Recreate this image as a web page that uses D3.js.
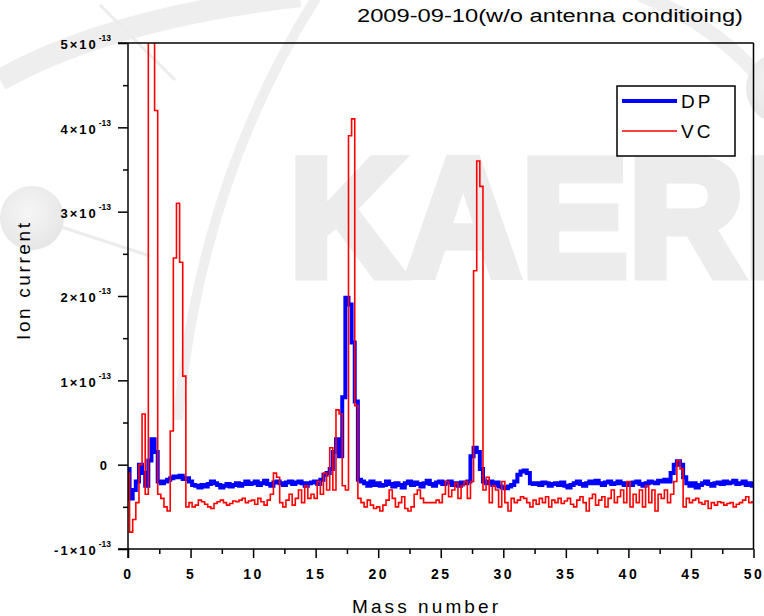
<!DOCTYPE html>
<html><head><meta charset="utf-8">
<script src="https://cdn.jsdelivr.net/npm/d3@7"></script>
<style>
html,body{margin:0;padding:0;background:#fff;}
svg{display:block;}
</style></head>
<body>
<svg id="chart" width="764" height="616"></svg>
<script>
// ---- data (ion current in units of 1e-13 A), mass number grid 0..50 step 0.25 ----
const massStart = 0, massEnd = 50, massStep = 0.25;
const seriesNames = ["DP", "VC"];
const seriesColors = ["#0000ff", "#ff0000"];
const dpValues = [
 -0.05,-0.4,-0.3,-0.2,0.0,-0.1,-0.25,0.05,0.3,0.15,-0.2,-0.22,-0.2,-0.18,-0.16,-0.14,-0.15,-0.13,-0.17,-0.16,
 -0.2,-0.24,-0.25,-0.27,-0.24,-0.26,-0.23,-0.2,-0.22,-0.24,-0.27,-0.25,-0.23,-0.26,-0.24,-0.22,-0.25,-0.23,-0.2,-0.23,
 -0.22,-0.2,-0.24,-0.22,-0.19,-0.23,-0.25,-0.21,-0.2,-0.22,-0.24,-0.21,-0.2,-0.23,-0.21,-0.2,-0.22,-0.25,-0.22,-0.21,
 -0.2,-0.23,-0.18,-0.12,-0.1,-0.05,0.15,0.3,0.1,0.8,1.98,1.9,1.45,0.75,-0.18,-0.2,-0.22,-0.25,-0.2,-0.24,
 -0.22,-0.25,-0.24,-0.2,-0.23,-0.26,-0.22,-0.24,-0.27,-0.22,-0.2,-0.24,-0.21,-0.23,-0.26,-0.22,-0.19,-0.23,-0.25,-0.21,
 -0.2,-0.23,-0.21,-0.2,-0.24,-0.22,-0.25,-0.21,-0.22,-0.2,0.1,0.2,0.15,-0.05,-0.2,-0.22,-0.2,-0.24,-0.21,-0.26,
 -0.27,-0.28,-0.26,-0.24,-0.2,-0.12,-0.08,-0.07,-0.1,-0.22,-0.23,-0.22,-0.24,-0.21,-0.22,-0.25,-0.23,-0.22,-0.24,-0.21,
 -0.25,-0.27,-0.24,-0.22,-0.2,-0.23,-0.25,-0.22,-0.2,-0.22,-0.19,-0.22,-0.24,-0.21,-0.2,-0.23,-0.22,-0.2,-0.22,-0.24,
 -0.22,-0.24,-0.21,-0.2,-0.23,-0.25,-0.22,-0.2,-0.21,-0.22,-0.19,-0.2,-0.18,-0.2,-0.1,0.0,0.04,0.0,-0.15,-0.22,
 -0.25,-0.22,-0.27,-0.24,-0.22,-0.2,-0.23,-0.25,-0.22,-0.21,-0.23,-0.2,-0.22,-0.21,-0.19,-0.23,-0.22,-0.2,-0.24,-0.22,-0.25
];
const vcValues = [
 -0.1,-0.8,-0.65,-0.45,0.0,0.6,-0.35,5.6,5.6,4.2,-0.35,-0.4,-0.5,-0.55,0.4,2.45,3.1,2.4,1.05,-0.5,
 -0.45,-0.5,-0.48,-0.42,-0.44,-0.47,-0.5,-0.52,-0.46,-0.44,-0.42,-0.45,-0.48,-0.46,-0.43,-0.44,-0.42,-0.4,-0.45,-0.43,
 -0.42,-0.47,-0.4,-0.44,-0.48,-0.42,-0.35,-0.1,-0.15,-0.45,-0.5,-0.42,-0.35,-0.48,-0.4,-0.3,-0.45,-0.25,-0.4,-0.35,
 -0.4,-0.2,-0.35,-0.1,-0.3,0.2,-0.3,0.65,0.6,-0.25,-0.3,3.9,4.1,0.7,-0.4,-0.45,-0.5,-0.42,-0.48,-0.52,
 -0.5,-0.55,-0.48,-0.42,-0.3,-0.4,-0.5,-0.45,-0.38,-0.52,-0.55,-0.5,-0.35,-0.3,-0.4,-0.45,-0.45,-0.45,-0.45,-0.42,
 -0.45,-0.35,-0.2,-0.38,-0.3,-0.22,-0.4,-0.25,-0.2,-0.4,-0.2,2.3,3.6,3.3,-0.3,-0.15,-0.45,-0.25,-0.3,-0.5,
 -0.2,-0.45,-0.55,-0.4,-0.45,-0.42,-0.38,-0.4,-0.45,-0.5,-0.42,-0.47,-0.4,-0.45,-0.38,-0.5,-0.42,-0.45,-0.4,-0.46,
 -0.43,-0.4,-0.47,-0.5,-0.42,-0.38,-0.45,-0.55,-0.4,-0.35,-0.48,-0.42,-0.38,-0.5,-0.4,-0.3,-0.45,-0.38,-0.3,-0.45,
 -0.2,-0.5,-0.35,-0.45,-0.3,-0.5,-0.25,-0.45,-0.3,-0.55,-0.35,-0.4,-0.3,-0.45,-0.35,-0.2,0.05,-0.05,-0.5,-0.4,
 -0.45,-0.42,-0.4,-0.45,-0.47,-0.43,-0.52,-0.45,-0.48,-0.44,-0.45,-0.48,-0.46,-0.45,-0.5,-0.47,-0.45,-0.42,-0.38,-0.45,-0.44
];
const xTicks = [0,5,10,15,20,25,30,35,40,45,50];
const xMinorTicks = [2.5,7.5,12.5,17.5,22.5,27.5,32.5,37.5,42.5,47.5];
const yTicks = [-1,0,1,2,3,4,5];
const yMinorTicks = [-0.5,0.5,1.5,2.5,3.5,4.5];
const titleText = "2009-09-10(w/o antenna conditioing)";
const xLabel = "Mass number";
const yLabel = "Ion current";
const yExponent = "-13";

// ---- layout ----
const svg = d3.select("#chart");
const L = 128, R = 753.5, T = 43, B = 549;
const x = d3.scaleLinear().domain([massStart, massEnd]).range([L, R]);
const y = d3.scaleLinear().domain([-1, 5]).range([B, T]);
const masses = d3.range(dpValues.length).map(i => massStart + i * massStep);

// ---- faint background watermark ----
const wm = svg.append("g").attr("class", "watermark");
const grad = svg.append("defs").append("radialGradient").attr("id","ball").attr("cx","45%").attr("cy","40%").attr("r","60%");
grad.append("stop").attr("offset","0%").attr("stop-color","#f6f6f6");
grad.append("stop").attr("offset","100%").attr("stop-color","#e6e6e6");
wm.append("path").attr("d","M0,80 Q110,18 300,-4").attr("fill","none").attr("stroke","#eeeeee").attr("stroke-width",22);
wm.append("path").attr("d","M318,-5 Q200,180 178,420").attr("fill","none").attr("stroke","#efefef").attr("stroke-width",10);
wm.append("path").attr("d","M100,5 L175,80").attr("fill","none").attr("stroke","#ececec").attr("stroke-width",3);
wm.append("path").attr("d","M40,220 L150,256").attr("fill","none").attr("stroke","#ececec").attr("stroke-width",3);
wm.append("path").attr("d","M640,-5 Q720,25 770,90").attr("fill","none").attr("stroke","#efefef").attr("stroke-width",14);
wm.append("circle").attr("cx",32).attr("cy",218).attr("r",32).attr("fill","url(#ball)");
wm.append("circle").attr("cx",782).attr("cy",88).attr("r",36).attr("fill","url(#ball)");
wm.append("text").attr("x",289).attr("y",276)
  .attr("font-family","Liberation Sans, Arial, sans-serif").attr("font-weight","bold")
  .attr("font-size",168).attr("fill","#ececec")
  .attr("stroke","#ececec").attr("stroke-width",9).attr("stroke-linejoin","miter")
  .attr("textLength",500).attr("lengthAdjust","spacingAndGlyphs")
  .text("KAERI");

// ---- clip ----
svg.append("defs").append("clipPath").attr("id","plotClip")
  .append("rect").attr("x",L).attr("y",T).attr("width",R-L).attr("height",B-T);

// ---- series ----
const line = d3.line().x((d,i)=>x(masses[i])).y(d=>y(d)).curve(d3.curveStep);
const plot = svg.append("g").attr("clip-path","url(#plotClip)");
plot.append("path").datum(dpValues).attr("d",line)
  .attr("fill","none").attr("stroke",seriesColors[0]).attr("stroke-width",4).attr("stroke-linejoin","miter");
plot.append("path").datum(vcValues).attr("d",line)
  .attr("fill","none").attr("stroke",seriesColors[1]).attr("stroke-width",1.6);

// ---- frame (top & right) ----
svg.append("line").attr("x1",118).attr("x2",R).attr("y1",T).attr("y2",T).attr("stroke","#000").attr("stroke-width",1.5);
svg.append("line").attr("x1",R).attr("x2",R).attr("y1",T).attr("y2",B).attr("stroke","#000").attr("stroke-width",1.5);

// ---- axes ----
const tickFont = "Liberation Sans, Arial, sans-serif";
const yAxis = d3.axisLeft(y).tickValues(yTicks).tickSize(10).tickFormat(()=>"");
const gy = svg.append("g").attr("transform",`translate(${L},0)`).call(yAxis);
gy.select(".domain").attr("d",`M0,${T}V${B+9}`).attr("stroke-width",1.5);
gy.selectAll(".tick line").attr("stroke-width",1.5);
gy.selectAll(".tick").each(function(d){
  const t = d3.select(this).append("text").attr("x",-17).attr("dy","0.45em")
    .attr("fill","#000").attr("font-family",tickFont).attr("font-weight","bold")
    .attr("font-size",13).attr("text-anchor","end");
  if (d === 0) { t.attr("x",-21).attr("dy","0.36em").text("0"); }
  else {
    t.append("tspan").attr("letter-spacing",2).text(d + "\u00d710");
    t.append("tspan").attr("dx",1).attr("dy","-0.95em").attr("font-size",8.5).text(yExponent);
  }
});
const gyMinor = svg.append("g").attr("transform",`translate(${L},0)`)
  .call(d3.axisLeft(y).tickValues(yMinorTicks).tickSize(5).tickFormat(()=>""));
gyMinor.select(".domain").remove();
gyMinor.selectAll(".tick line").attr("stroke-width",1.5);

const xAxis = d3.axisBottom(x).tickValues(xTicks).tickSize(9).tickPadding(11)
  .tickFormat(d=>String(d));
const gx = svg.append("g").attr("transform",`translate(0,${B})`).call(xAxis);
gx.select(".domain").attr("d",`M118,0H${R}`).attr("stroke-width",1.5);
gx.selectAll(".tick line").attr("stroke-width",1.5);
gx.selectAll(".tick text").attr("font-family",tickFont).attr("font-weight","bold")
  .attr("font-size",14).attr("letter-spacing",2.5).attr("fill","#000");
const gxMinor = svg.append("g").attr("transform",`translate(0,${B})`)
  .call(d3.axisBottom(x).tickValues(xMinorTicks).tickSize(5).tickFormat(()=>""));
gxMinor.select(".domain").remove();
gxMinor.selectAll(".tick line").attr("stroke-width",1.5);

// ---- labels ----
const labFont = "Liberation Sans, Arial, sans-serif";
svg.append("text").attr("x",743).attr("y",22).attr("text-anchor","end")
  .attr("font-family",labFont).attr("font-size",18).attr("fill","#000")
  .attr("textLength",386).attr("lengthAdjust","spacingAndGlyphs").text(titleText);
svg.append("text").attr("x",352).attr("y",613)
  .attr("font-family",labFont).attr("font-size",19).attr("fill","#000")
  .attr("textLength",146).attr("lengthAdjust","spacing").text(xLabel);
svg.append("text").attr("transform","translate(30,340) rotate(-90)")
  .attr("font-family",labFont).attr("font-size",19).attr("fill","#000")
  .attr("textLength",117).attr("lengthAdjust","spacing").text(yLabel);

// ---- legend ----
const lg = svg.append("g");
lg.append("rect").attr("x",617).attr("y",86).attr("width",118).attr("height",70)
  .attr("fill","#fff").attr("stroke","#000").attr("stroke-width",1.5);
const legendY = [101, 131], legendW = [4, 1.6];
seriesNames.forEach((n,i)=>{
  lg.append("line").attr("x1",622).attr("x2",677).attr("y1",legendY[i]).attr("y2",legendY[i])
    .attr("stroke",seriesColors[i]).attr("stroke-width",legendW[i]);
  lg.append("text").attr("x",681).attr("y",legendY[i]+7)
    .attr("font-family",labFont).attr("font-size",19).attr("fill","#000")
    .attr("letter-spacing",3).text(n);
});
</script>
</body></html>
